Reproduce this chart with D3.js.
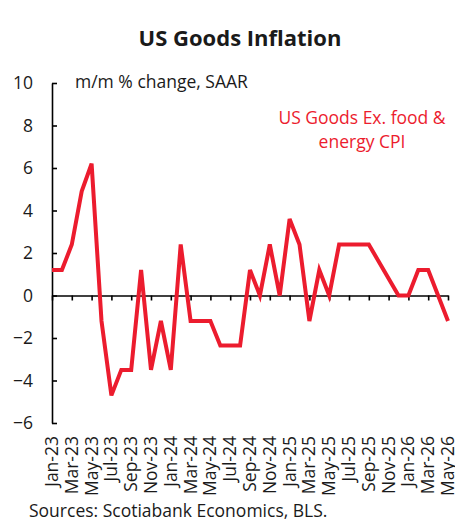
<!DOCTYPE html>
<html>
<head>
<meta charset="utf-8">
<script src="https://cdn.jsdelivr.net/npm/d3@7"></script>
<style>
    body { margin: 0; background: #fff; }
    svg text { font-family: "Open Sans", "Noto Sans", sans-serif; fill: #1a1a1a; }
</style>
</head>
<body>
<div id="chart"></div>
<script>
// Data
const months = [
    "Jan-23", "Feb-23", "Mar-23", "Apr-23", "May-23", "Jun-23", "Jul-23", "Aug-23", "Sep-23", "Oct-23", "Nov-23", "Dec-23",
    "Jan-24", "Feb-24", "Mar-24", "Apr-24", "May-24", "Jun-24", "Jul-24", "Aug-24", "Sep-24", "Oct-24", "Nov-24", "Dec-24",
    "Jan-25", "Feb-25", "Mar-25", "Apr-25", "May-25", "Jun-25", "Jul-25", "Aug-25", "Sep-25", "Oct-25", "Nov-25", "Dec-25",
    "Jan-26", "Feb-26", "Mar-26", "Apr-26", "May-26"
];
const goodsCpi = [
    1.2, 1.2, 2.4, 4.9, 6.2, -1.2, -4.7, -3.5, -3.5, 1.2, -3.5, -1.2,
    -3.5, 2.4, -1.2, -1.2, -1.2, -2.35, -2.35, -2.35, 1.2, 0, 2.4, 0,
    3.6, 2.4, -1.2, 1.2, 0, 2.4, 2.4, 2.4, 2.4, null, null, 0,
    0, 1.2, 1.2, 0, -1.2
];
const yTicks = [-6, -4, -2, 0, 2, 4, 6, 8, 10];
const labelMonths = months.filter((m, i) => i % 2 === 0);

const width = 455, height = 522;
const red = "#ec1c2e";

const svg = d3.select("#chart").append("svg")
    .attr("width", width)
    .attr("height", height);

// Scales
const x = d3.scalePoint().domain(months).range([52, 448]);
const y = d3.scaleLinear().domain([-6, 10]).range([423, 83]);

// Title
svg.append("text")
    .attr("x", 240).attr("y", 46)
    .attr("text-anchor", "middle")
    .style("font-size", "22px").style("font-weight", "bold")
    .text("US Goods Inflation");

// Y axis (ticks inside, labels on left)
const yAxis = svg.append("g")
    .attr("transform", `translate(${x(months[0])},0)`)
    .call(d3.axisLeft(y).tickValues(yTicks).tickSize(-5).tickSizeOuter(0).tickPadding(19));
yAxis.selectAll("text").style("font-size", "17.5px").attr("fill", "#1a1a1a");
yAxis.selectAll("line, path").attr("stroke", "#000").attr("stroke-width", 1.6);

// X axis along zero line
const xAxis = svg.append("g")
    .attr("transform", `translate(0,${y(0)})`)
    .call(d3.axisBottom(x).tickValues(labelMonths).tickSize(5).tickSizeOuter(0).tickFormat(""));
xAxis.selectAll("line, path").attr("stroke", "#000").attr("stroke-width", 1.6);

// Rotated month labels at the bottom
svg.append("g").selectAll("text")
    .data(labelMonths)
    .join("text")
    .attr("transform", d => `translate(${x(d) + 6},436) rotate(-90)`)
    .attr("text-anchor", "end")
    .style("font-size", "17.5px")
    .text(d => d);

// Line
const line = d3.line()
    .x(d => x(d.month))
    .y(d => y(d.value));
const points = months.map((m, i) => ({ month: m, value: goodsCpi[i] }))
    .filter(d => d.value !== null);

svg.append("path")
    .datum(points)
    .attr("fill", "none")
    .attr("stroke", red)
    .attr("stroke-width", 4)
    .attr("stroke-linejoin", "miter")
    .attr("d", line);

// Annotations
svg.append("text")
    .attr("x", 75).attr("y", 88)
    .style("font-size", "17.5px")
    .text("m/m % change, SAAR");

const legend = svg.append("text")
    .attr("text-anchor", "middle")
    .style("font-size", "17.5px");
legend.append("tspan").attr("x", 362).attr("y", 124).attr("fill", red).text("US Goods Ex. food &");
legend.append("tspan").attr("x", 362).attr("y", 148).attr("fill", red).text("energy CPI");

// Source
svg.append("text")
    .attr("x", 29).attr("y", 517)
    .style("font-size", "17.5px")
    .text("Sources: Scotiabank Economics, BLS.");
</script>
</body>
</html>
